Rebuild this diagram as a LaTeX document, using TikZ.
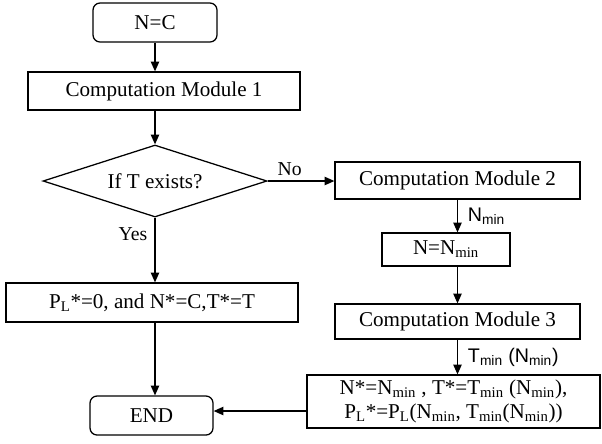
\documentclass[tikz,border=0pt]{standalone}
\usepackage{fontspec}
\setmainfont{Liberation Serif}
\newfontfamily\labelfont{Liberation Sans}
\usetikzlibrary{arrows.meta,positioning,shapes.geometric}

\newcommand{\lo}[1]{\textsubscript{#1}}

\begin{document}
\begin{tikzpicture}[
  box/.style={draw,rectangle,line width=0.9pt,align=center,inner sep=2pt,
              font=\fontsize{15}{17}\selectfont},
  term/.style={box,rounded corners=5pt},
  cond/.style={draw,diamond,aspect=3.1,line width=0.9pt,inner sep=0pt,
               minimum width=5.6cm,minimum height=1.8cm,
               font=\fontsize{15}{17}\selectfont},
  arr/.style={-{Triangle[length=7pt,width=6pt]},line width=0.9pt},
  lbl/.style={font=\fontsize{14}{16}\selectfont,inner sep=1pt},
  val/.style={font=\labelfont\fontsize{14}{16}\selectfont,inner sep=1pt}
]
\useasboundingbox (0,0) rectangle (15.05,-11.075);

%% Left column
\node[term,minimum width=3.1cm,minimum height=0.975cm] (start) at (3.875,-0.5625) {N=C};
\node[box,minimum width=6.8cm,minimum height=0.95cm]   (cmone) at (4.1,-2.275) {Computation Module 1};
\node[cond] (test) at (3.875,-4.525) {If T exists?};
\node[box,minimum width=7.3cm,minimum height=0.975cm]  (zero)  at (3.8,-7.5625) {P\lo{L}*=0, and N*=C,T*=T};
\node[term,minimum width=3.075cm,minimum height=0.975cm] (stop) at (3.7875,-10.3875) {END};

%% Right column
\node[box,minimum width=6.125cm,minimum height=0.925cm] (cmtwo)   at (11.4375,-4.5125) {Computation Module 2};
\node[box,minimum width=3.2cm,minimum height=0.825cm]   (setn)    at (11.15,-6.2375) {N=N\lo{min}};
\node[box,minimum width=6.125cm,minimum height=0.875cm] (cmthree) at (11.4375,-8.0375) {Computation Module 3};
\node[box,minimum width=7.325cm,minimum height=1.325cm]  (result)  at (11.3375,-10.0375)
  {N*=N\lo{min} , T*=T\lo{min} (N\lo{min}),\\P\lo{L}*=P\lo{L}(N\lo{min}, T\lo{min}(N\lo{min}))};

%% Arrows
\draw[arr] (start) -- (start |- cmone.north);
\draw[arr] (test.north |- cmone.south) -- (test.north);
\draw[arr] (test.south) -- node[lbl,left=4pt,pos=0.25] {Yes} (test.south |- zero.north);
\draw[arr] (test.south |- zero.south) -- (test.south |- stop.north);
\draw[arr] (test.east) -- node[lbl,above=2pt,pos=0.33] {No} (test.east -| cmtwo.west);
\draw[arr] (cmtwo.south) -- node[val,right=6pt] {N\lo{min}} (cmtwo.south |- setn.north);
\draw[arr] (cmtwo.south |- setn.south) -- (cmthree.north);
\draw[arr] (cmthree.south) -- node[val,right=6pt,anchor=west] {T\lo{min} (N\lo{min})} (result.north -| cmthree.south);
\draw[arr] (result.west |- 0,-10.275) -- (stop.east |- 0,-10.275);
\end{tikzpicture}
\end{document}
